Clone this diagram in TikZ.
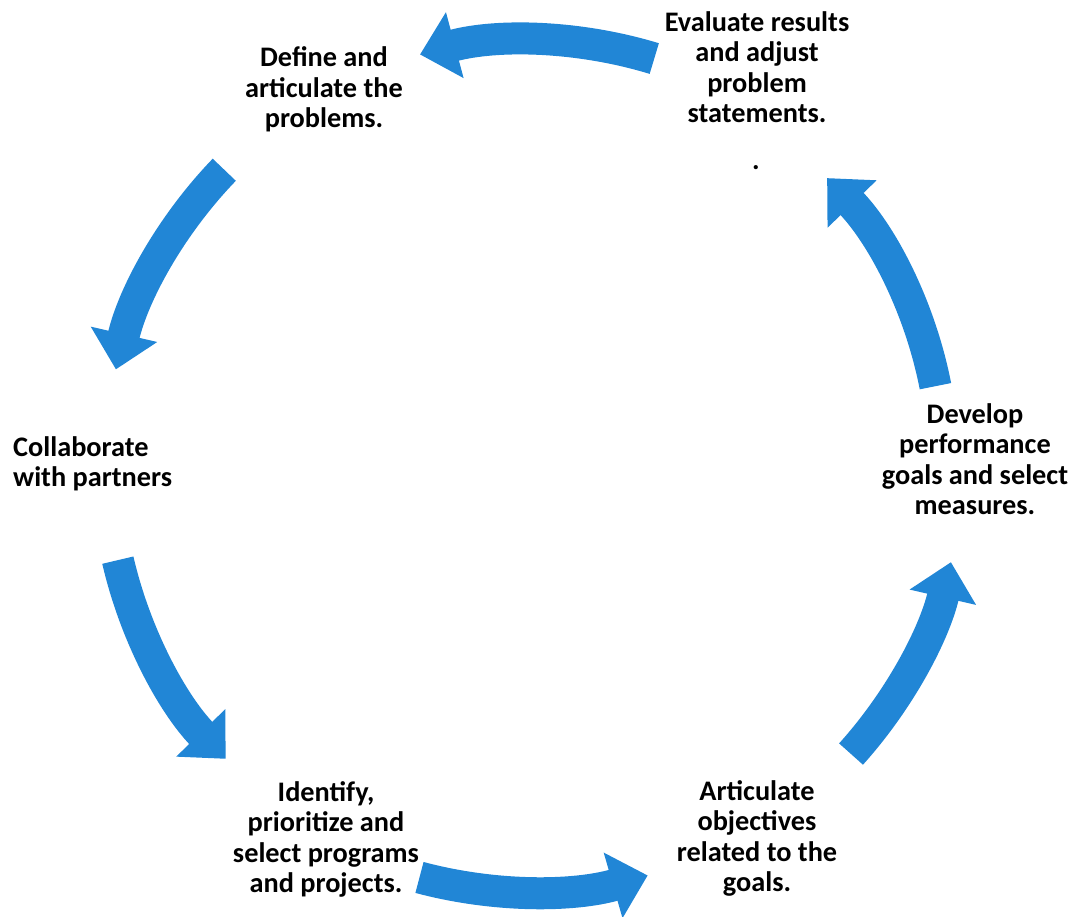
\documentclass[tikz,border=0pt]{standalone}
\usepackage{fontspec}
\setmainfont{Carlito}
\usetikzlibrary{arrows.meta}
\definecolor{cycleblue}{RGB}{33,134,214}
\begin{document}
\begin{tikzpicture}[x=1pt,y=1pt,
    lbl/.style={font=\fontsize{28.3}{30.5}\selectfont\bfseries,align=center,inner sep=0pt,anchor=base},
    flow/.style={draw=cycleblue,line width=32pt,-{Triangle[width=66pt,length=36pt]}}]
  \useasboundingbox (0,0) rectangle (1078,917);
  \coordinate (c) at (530,452);
  \node[lbl] (evaluate) at (757,794) {Evaluate results\\and adjust\\problem\\statements.};
  \node[lbl] (dot) at (756,747) {.};
  \node[lbl] (define) at (324,789) {Define and\\articulate the\\problems.};
  \node[lbl,anchor=base west,align=left] (collaborate) at (13,430) {Collaborate\\with partners};
  \node[lbl] (develop) at (975,402) {Develop\\performance\\goals and select\\measures.};
  \node[lbl] (identify) at (326,24) {Identify,\\prioritize and\\select programs\\and projects.};
  \node[lbl] (articulate) at (757,25) {Articulate\\objectives\\related to the\\goals.};
  \foreach \s/\e/\rad in {73/105/425,136/167/425,193/224/423,255/286/427,318/347/432,11/44/413}
    \draw[flow] ([shift={(\s:\rad)}]c) arc[start angle=\s,end angle=\e,radius=\rad];
\end{tikzpicture}
\end{document}
